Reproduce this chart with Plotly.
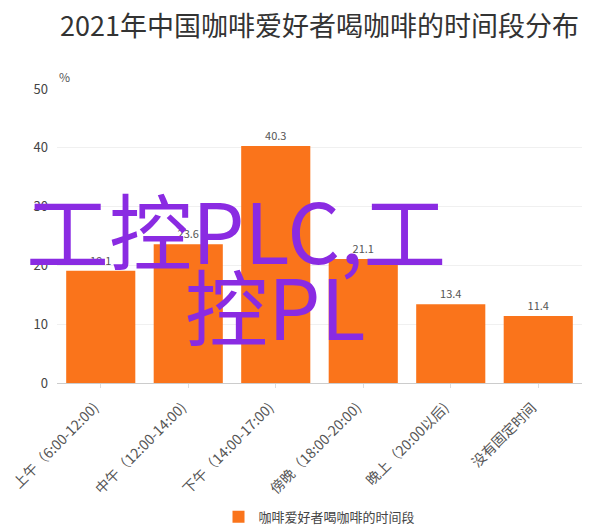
import plotly.graph_objects as go

categories = ["上午（6:00-12:00)", "中午（12:00-14:00)", "下午（14:00-17:00)",
              "傍晚（18:00-20:00)", "晚上（20:00以后)", "没有固定时间"]
values = [19.1, 23.6, 40.3, 21.1, 13.4, 11.4]
series_name = "咖啡爱好者喝咖啡的时间段"
title = "2021年中国咖啡爱好者喝咖啡的时间段分布"
y_ticks = [0, 10, 20, 30, 40, 50]

FONT = "Noto Sans CJK SC"
fig = go.Figure()
fig.add_trace(go.Bar(
    x=categories, y=values, name=series_name,
    marker=dict(color="#FA741B", line=dict(width=0)),
    text=[f"{v:.1f}" for v in values], textposition="outside",
    textfont=dict(size=11, color="#555555", family=FONT),
    cliponaxis=False, showlegend=True,
))
fig.update_layout(
    width=614, height=530,
    margin=dict(l=57, r=32, t=89, b=147, autoexpand=False),
    paper_bgcolor="white", plot_bgcolor="white",
    font=dict(family=FONT, color="#444444"),
    title=dict(text=title, xref="paper", x=0.5, xanchor="center", y=0.95, yanchor="middle",
               font=dict(size=27, color="#333333", family=FONT)),
    bargap=0.21,
    showlegend=True,
    legend=dict(orientation="h", x=0.5, xanchor="center", y=-0.455, yanchor="middle",
                font=dict(size=13, color="#444444", family=FONT)),
    xaxis=dict(tickangle=-45, tickfont=dict(size=14, color="#555555"), automargin=False,
               showline=True, linecolor="#CCCCCC", ticks="outside", ticklen=4,
               tickcolor="#DDDDDD", showgrid=False, ticklabelstandoff=6,
               ticklabelshift=-6),
    yaxis=dict(range=[0, 50], tickvals=y_ticks, tickfont=dict(size=13, color="#444444"),
               showgrid=True, gridcolor="#F0F0F0", zeroline=False, showline=False,
               ticks="", ticklabelstandoff=8, automargin=False),
)
fig.add_annotation(text="%", xref="paper", yref="paper", x=0.0, y=1.0, yshift=2,
                   xanchor="left", yanchor="bottom", showarrow=False,
                   font=dict(size=12, color="#555555", family=FONT))
# watermark overlay
fig.add_annotation(text="工控PLC,工", xref="paper", yref="paper", x=-0.062, y=0.528,
                   xanchor="left", yanchor="middle", showarrow=False,
                   font=dict(size=83, color="#8A2BE2", family=FONT))
fig.add_annotation(text="控PL", xref="paper", yref="paper", x=0.24, y=0.27,
                   xanchor="left", yanchor="middle", showarrow=False,
                   font=dict(size=83, color="#8A2BE2", family=FONT))
fig.write_html("out.html")
